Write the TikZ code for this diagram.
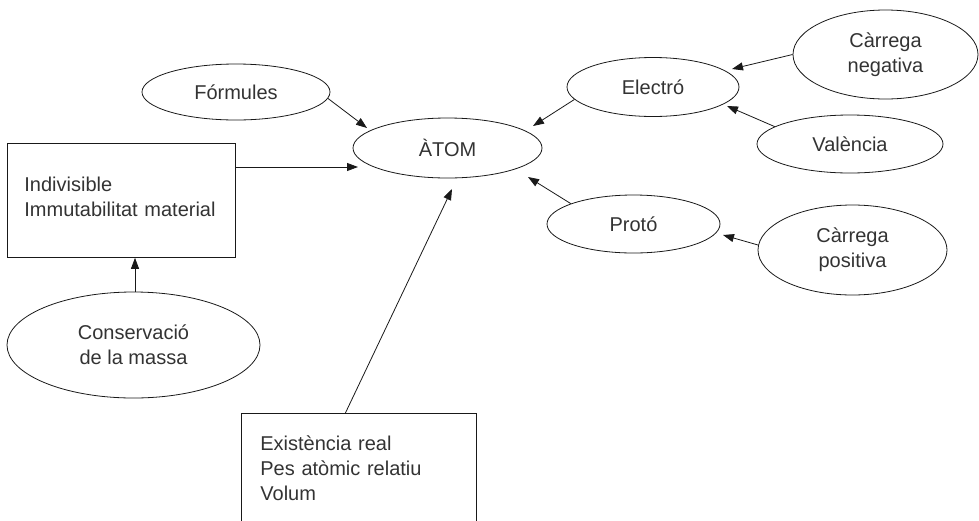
\documentclass[tikz,border=0pt]{standalone}
\usepackage{fontspec}
\setmainfont{Liberation Sans}
\usetikzlibrary{shapes.geometric,arrows.meta}
\begin{document}
\begin{tikzpicture}[x=1pt,y=1pt,
  font=\fontsize{20}{25}\selectfont,
  line width=0.8pt,
  ell/.style={draw=black!90, ellipse, inner sep=0pt, align=center, text=black!80},
  boxn/.style={draw=black!90, rectangle, align=left, inner ysep=0pt, text=black!80, anchor=north west},
  arr/.style={draw=black!90, -{Triangle[length=11pt,width=8pt]}}]
\useasboundingbox (0,0) rectangle (979,-520);

% nodes
\node[ell, minimum width=189pt, minimum height=60pt] (atom) at (447.5,-148) {ÀTOM};
\node[ell, minimum width=188pt, minimum height=56pt] (form) at (236,-92) {Fórmules};
\node[ell, minimum width=172pt, minimum height=59pt] (elec) at (653,-87) {Electró};
\node[ell, minimum width=185pt, minimum height=89pt] (cneg) at (885.5,-54.5) {Càrrega\\negativa};
\node[ell, minimum width=186pt, minimum height=58pt] (val) at (850,-144) {València};
\node[ell, minimum width=173pt, minimum height=58pt] (prot) at (633.5,-224) {Protó};
\node[ell, minimum width=189pt, minimum height=90pt] (cpos) at (852.5,-250) {Càrrega\\positiva};
\node[ell, minimum width=253pt, minimum height=106pt] (cons) at (133.5,-345) {Conservació\\de la massa};

\node[boxn, inner xsep=17pt, text width=194pt, minimum height=114pt] (ind) at (7,-143)
  {Indivisible\\Immutabilitat material\rule[-7.5pt]{0pt}{7.5pt}};
\node[boxn, inner xsep=19pt, text width=197pt, minimum height=109.4pt] (exi) at (241,-413)
  {Existència real\\Pes atòmic relatiu\\Volum};

% arrow tips
\coordinate (tF) at (367,-128);
\coordinate (tI) at (358,-167);
\coordinate (tN) at (732,-69);
\coordinate (tV) at (727,-106);
\coordinate (tE) at (533,-126);
\coordinate (tP) at (528,-177);
\coordinate (tC) at (723,-235);
\coordinate (tX) at (452,-189);

% connectors
\draw[arr] (form.-4) -- (tF);
\draw[arr] (ind.east |- tI) -- (tI);
\draw[arr] (cneg.west) -- (tN);
\draw[arr] (val.167) -- (tV);
\draw[arr] (elec.-171) -- (tE);
\draw[arr] (prot.162) -- (tP);
\draw[arr] (cpos.177) -- (tC);
\draw[arr] ([xshift=1.5pt]cons.north) -- ([xshift=1.5pt]cons.north |- ind.south);
\draw[arr] ([xshift=-13.5pt]exi.north) -- (tX);
\end{tikzpicture}
\end{document}
